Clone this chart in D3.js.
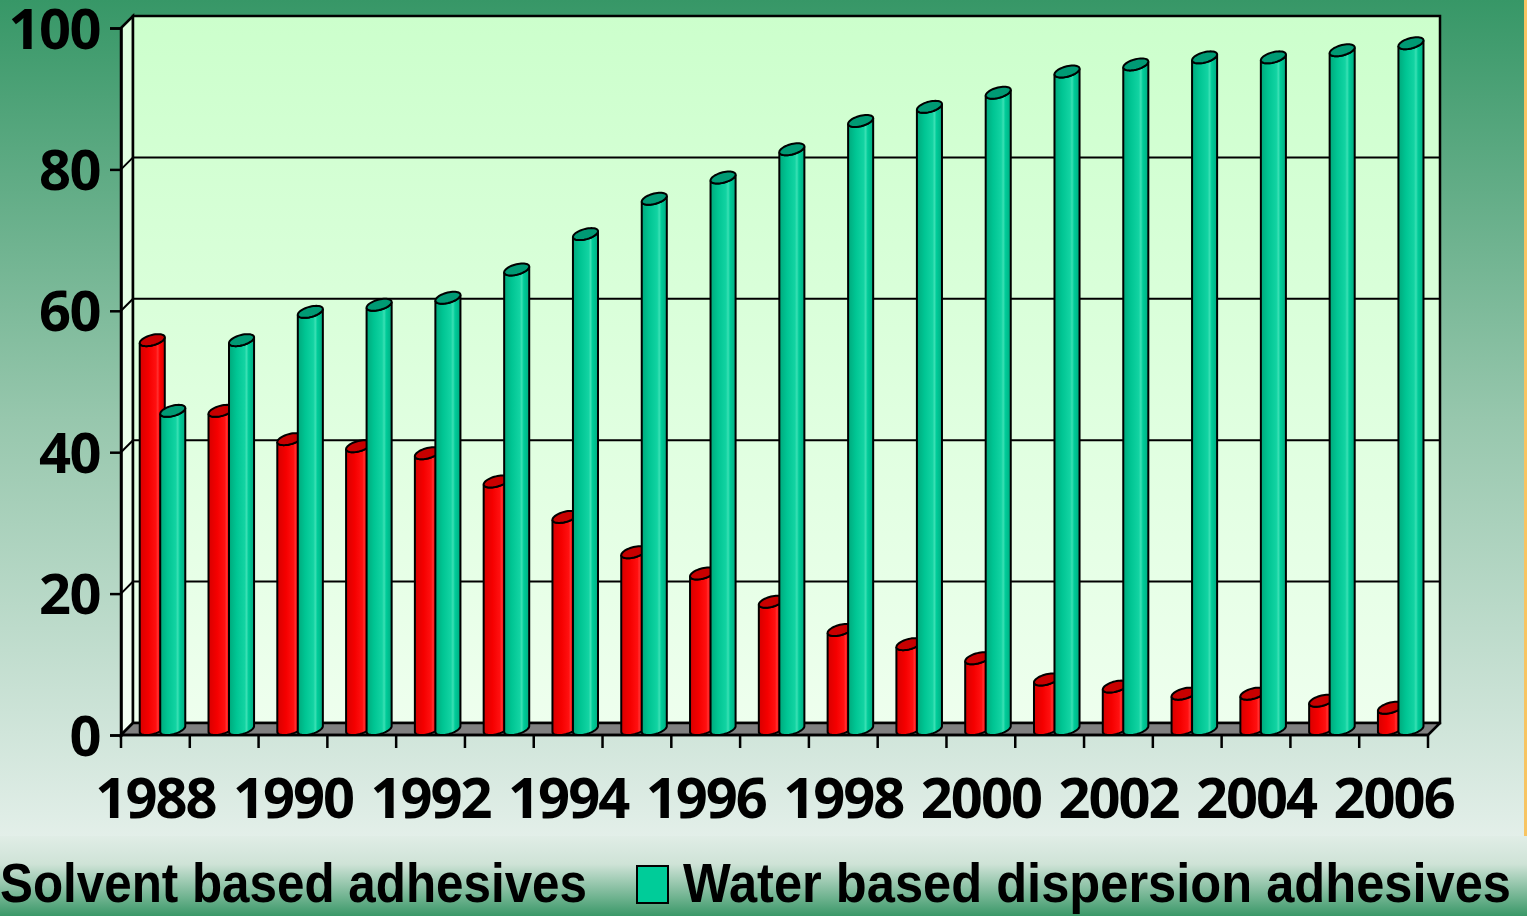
<!DOCTYPE html>
<html><head><meta charset="utf-8">
<script src="https://cdn.jsdelivr.net/npm/d3@7/dist/d3.min.js"></script>
<style>html,body{margin:0;padding:0;overflow:hidden;background:#fff}</style>
</head><body>
<svg id="c" width="1527" height="916"></svg>
<script>
const years = [1988,1989,1990,1991,1992,1993,1994,1995,1996,1997,1998,1999,2000,2001,2002,2003,2004,2005,2006];
const solvent = [55,45,41,40,39,35,30,25,22,18,14,12,10,7,6,5,5,4,3];
const water = [45,55,59,60,61,65,70,75,78,82,86,88,90,93,94,95,95,96,97];
const yTicks = [0,20,40,60,80,100];
const seriesNames = ["Solvent based adhesives","Water based dispersion adhesives"];

const W=1527,H=916;
const svg=d3.select("#c");
const defs=svg.append("defs");
function lg(id,stops,vertical){
  const g=defs.append("linearGradient").attr("id",id);
  if(vertical) g.attr("x1",0).attr("y1",0).attr("x2",0).attr("y2",1);
  stops.forEach(s=>g.append("stop").attr("offset",s[0]).attr("stop-color",s[1]));
}
lg("bg",[[0,"#379767"],[0.5,"#97c7ad"],[1,"#e3efe9"]],true);
lg("leg",[[0,"#e0ede6"],[0.35,"#cfe3d7"],[1,"#3a9868"]],true);
lg("wall",[[0,"#ccffcc"],[1,"#eeffee"]],true);
lg("side",[[0,"#ddffdd"],[1,"#f4fff4"]],true);
lg("gcyl",[[0,"#00a97c"],[0.3,"#00c593"],[0.62,"#12d3a2"],[0.7,"#3ae0b4"],[0.78,"#00cc99"],[1,"#00ad82"]],false);
lg("rcyl",[[0,"#d80000"],[0.35,"#f50000"],[0.65,"#ff1010"],[0.72,"#ff3030"],[0.8,"#ff0000"],[1,"#dd0000"]],false);

// background
svg.append("rect").attr("width",W).attr("height",838).attr("fill","url(#bg)");
svg.append("rect").attr("y",836).attr("width",W).attr("height",H-836).attr("fill","url(#leg)");
svg.append("rect").attr("x",1524).attr("width",3).attr("height",836).attr("fill","#f7c462");

// geometry
const x0=121,x1=1428,yF0=735,depth=12;
const x=d3.scaleBand().domain(years).range([x0,x1]).padding(0);
const y=d3.scaleLinear().domain([0,100]).range([yF0,28]);
const sub=d3.scaleBand().domain([0,1]).range([15,56]).padding(0);

// side wall
svg.append("path").attr("d",`M${x0},${y(100)}L${x0+depth},${y(100)-depth}L${x0+depth},${yF0-depth}L${x0},${yF0}Z`)
  .attr("fill","url(#side)").attr("stroke","#000").attr("stroke-width",2.5);
// back wall
svg.append("rect").attr("x",x0+depth).attr("y",y(100)-depth).attr("width",x1+depth-(x0+depth)).attr("height",yF0-y(100))
  .attr("fill","url(#wall)").attr("stroke","#000").attr("stroke-width",2.5);
// gridlines
const gl=svg.append("g").attr("stroke","#000").attr("stroke-width",2).attr("fill","none");
yTicks.filter(t=>t>0&&t<100).forEach(t=>{
  gl.append("path").attr("d",`M${x0},${y(t)}L${x0+depth},${y(t)-depth}L${x1+depth},${y(t)-depth}`);
});
// floor
svg.append("path").attr("d",`M${x0},${yF0}L${x0+depth},${yF0-depth}L${x1+depth},${yF0-depth}L${x1},${yF0}Z`)
  .attr("fill","#808080").attr("stroke","#000").attr("stroke-width",2.5).attr("stroke-linejoin","round");

// y axis
const ya=svg.append("g").attr("transform",`translate(${x0},0)`)
  .call(d3.axisLeft(y).tickValues(yTicks).tickSize(11).tickPadding(10).tickFormat(d3.format("d")));
ya.select(".domain").attr("stroke","#000").attr("stroke-width",2.5);
ya.selectAll(".tick line").attr("stroke","#000").attr("stroke-width",2.5);
ya.selectAll("text").attr("font-family","'Open Sans'").attr("font-weight",700).attr("font-size",56).attr("letter-spacing",-1.5).attr("fill","#000").attr("dy","0.36em");

// x axis
const xa=svg.append("g").attr("transform",`translate(0,${yF0})`)
  .call(d3.axisBottom(x).tickSize(0).tickPadding(43).tickFormat(d=>d%2===0?String(d):""));
xa.select(".domain").remove();
xa.selectAll("text").attr("font-family","'Open Sans'").attr("font-weight",700).attr("font-size",56).attr("letter-spacing",-2).attr("fill","#000");
const bounds=years.map(d=>x(d)).concat([x1]);
svg.append("g").selectAll("line").data(bounds).join("line")
  .attr("x1",d=>d).attr("x2",d=>d).attr("y1",yF0).attr("y2",yF0+13).attr("stroke","#000").attr("stroke-width",2.5);
svg.append("line").attr("x1",x0).attr("x2",x1).attr("y1",yF0).attr("y2",yF0).attr("stroke","#000").attr("stroke-width",2.5);

// cylinders
const r=11,a=6; // radius, half-depth shear
const th1=Math.atan(a/r), th2=Math.PI+Math.atan(a/r);
function pt(cx,yy,t){const z=a*(1+Math.sin(t));return [cx+r*Math.cos(t)+z, yy-z];}
function arc(cx,yy,from,to,n){const p=[];for(let i=0;i<=n;i++){p.push(pt(cx,yy,from+(to-from)*i/n));}return p;}
function cylBody(cx,yt,yb){
  const top=arc(cx,yt,th2,th1+2*Math.PI,30);
  const bot=arc(cx,yb,th1+2*Math.PI,th2,30);
  return "M"+top.map(p=>p.join(",")).join("L")+"L"+bot.map(p=>p.join(",")).join("L")+"Z";
}
function cylCap(cx,yt){const p=arc(cx,yt,0,2*Math.PI,48);return "M"+p.map(q=>q.join(",")).join("L")+"Z";}
const series=[{vals:solvent,fill:"url(#rcyl)",cap:"#c80000"},{vals:water,fill:"url(#gcyl)",cap:"#009a74"}];
const bars=svg.append("g");
years.forEach((yr,i)=>{
  series.forEach((s,k)=>{
    const cx=x(yr)+sub(k)+sub.bandwidth()/2;
    const yt=y(s.vals[i]), yb=yF0;
    bars.append("path").attr("d",cylBody(cx,yt,yb)).attr("fill",s.fill).attr("stroke","#000").attr("stroke-width",2);
    bars.append("path").attr("d",cylCap(cx,yt)).attr("fill",s.cap).attr("stroke","#000").attr("stroke-width",2);
  });
});

// legend
const lgd=svg.append("g");
lgd.append("text").attr("x",0).attr("y",902).text(seriesNames[0])
  .attr("font-family","'Liberation Sans Narrow','Liberation Sans'").attr("font-weight",700).attr("font-size",55)
  .attr("textLength",587).attr("lengthAdjust","spacingAndGlyphs");
lgd.append("rect").attr("x",637).attr("y",866).attr("width",31).attr("height",37).attr("fill","#00cc99").attr("stroke","#000").attr("stroke-width",2);
lgd.append("text").attr("x",683).attr("y",902).text(seriesNames[1])
  .attr("font-family","'Liberation Sans Narrow','Liberation Sans'").attr("font-weight",700).attr("font-size",55)
  .attr("textLength",828).attr("lengthAdjust","spacingAndGlyphs");
</script>
</body></html>
